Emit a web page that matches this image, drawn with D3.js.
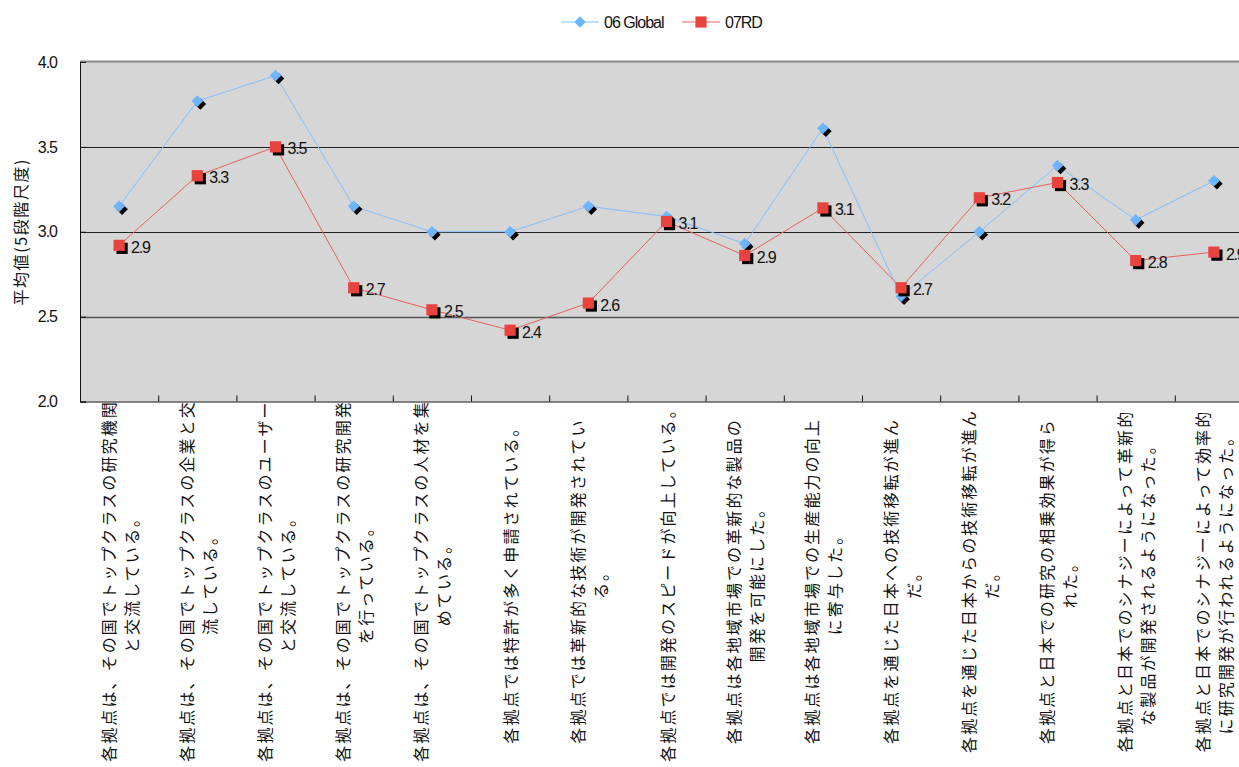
<!DOCTYPE html>
<html>
<head>
<meta charset="utf-8">
<script src="https://cdn.jsdelivr.net/npm/d3@7"></script>
<style>
  html, body { margin: 0; padding: 0; background: #fff; }
  svg { display: block; overflow: hidden; }
  text { font-family: "Liberation Sans", Arial, sans-serif; fill: #111; }
</style>
</head>
<body>
<svg id="chart" width="1239" height="767"></svg>
<script>
// Survey items (line breaks marked with \n)
const categories = [
  "各拠点は、その国でトップクラスの研究機関\nと交流している。",
  "各拠点は、その国でトップクラスの企業と交\n流している。",
  "各拠点は、その国でトップクラスのユーザー\nと交流している。",
  "各拠点は、その国でトップクラスの研究開発\nを行っている。",
  "各拠点は、その国でトップクラスの人材を集\nめている。",
  "各拠点では特許が多く申請されている。",
  "各拠点では革新的な技術が開発されてい\nる。",
  "各拠点では開発のスピードが向上している。",
  "各拠点は各地域市場での革新的な製品の\n開発を可能にした。",
  "各拠点は各地域市場での生産能力の向上\nに寄与した。",
  "各拠点を通じた日本への技術移転が進ん\nだ。",
  "各拠点を通じた日本からの技術移転が進ん\nだ。",
  "各拠点と日本での研究の相乗効果が得ら\nれた。",
  "各拠点と日本でのシナジーによって革新的\nな製品が開発されるようになった。",
  "各拠点と日本でのシナジーによって効率的\nに研究開発が行われるようになった。"
];

// Mean scores on a 5-point scale
const global06 = [3.15, 3.77, 3.92, 3.15, 3.00, 3.00, 3.15, 3.09, 2.93, 3.61, 2.62, 3.00, 3.39, 3.07, 3.30];
const rd07     = [2.92, 3.33, 3.50, 2.67, 2.54, 2.42, 2.58, 3.06, 2.86, 3.14, 2.67, 3.20, 3.29, 2.83, 2.88];

const seriesNames = ["06 Global", "07RD"];
const yTicks = [2.0, 2.5, 3.0, 3.5, 4.0];
const yTitle = "平均値(5段階尺度)";

const svg = d3.select("#chart");

const plotLeft = 80, plotTop = 62, plotBottom = 401.5, step = 78.2;
const plotRight = plotLeft + categories.length * step;

const x = d3.scaleBand().domain(d3.range(categories.length)).range([plotLeft, plotRight]);
const xEdge = d3.scaleLinear().domain([0, categories.length]).range([plotLeft, plotRight]);
const y = d3.scaleLinear().domain([2, 4]).range([plotBottom, plotTop]);
const cx = i => x(i) + x.bandwidth() / 2;

const numFont = "'Liberation Sans', Arial, sans-serif";
const jpFont = "'Noto Sans CJK JP', 'Noto Sans', sans-serif";

// plot background
svg.append("rect")
  .attr("x", plotLeft).attr("y", plotTop)
  .attr("width", plotRight - plotLeft).attr("height", plotBottom - plotTop)
  .attr("fill", "#d6d6d6");

// top border
svg.append("line")
  .attr("x1", plotLeft).attr("x2", plotRight)
  .attr("y1", plotTop - 0.5).attr("y2", plotTop - 0.5)
  .attr("stroke", "#858585").attr("stroke-width", 2);

// horizontal gridlines
svg.append("g").selectAll("line")
  .data(yTicks.filter(v => v > 2 && v < 4))
  .join("line")
  .attr("x1", plotLeft).attr("x2", plotRight)
  .attr("y1", d => Math.round(y(d)) + 0.5).attr("y2", d => Math.round(y(d)) + 0.5)
  .attr("stroke", d => d === 2.5 ? "#555" : "#222")
  .attr("stroke-width", d => d === 2.5 ? 1.6 : 1);

// y axis
const yAxis = svg.append("g")
  .attr("transform", `translate(${plotLeft},0)`)
  .call(d3.axisLeft(y).tickValues(yTicks).tickFormat(d3.format(".1f")).tickSize(-6).tickPadding(23));
yAxis.select(".domain").attr("stroke", "#111");
yAxis.selectAll(".tick line").attr("stroke", "#111");
yAxis.selectAll("text").attr("font-size", 16).attr("fill", "#111")
  .attr("font-family", numFont).attr("letter-spacing", "-1px");

// x axis with ticks between categories
const xAxis = svg.append("g")
  .attr("transform", `translate(0,${plotBottom})`)
  .call(d3.axisBottom(xEdge).tickValues(d3.range(1, categories.length)).tickFormat("").tickSize(-6).tickSizeOuter(0));
xAxis.select(".domain").attr("stroke", "#111");
xAxis.selectAll(".tick line").attr("stroke", "#111");

// category labels, rotated to read bottom-to-top
const labelMid = 581, lineGap = 23;
const catG = svg.append("g");
categories.forEach((c, i) => {
  const lines = c.split("\n");
  const t = catG.append("text")
    .attr("transform", `translate(${cx(i)},${labelMid}) rotate(-90)`)
    .attr("text-anchor", "middle")
    .attr("font-size", 16)
    .attr("letter-spacing", "2.1px")
    .style("font-family", jpFont);
  lines.forEach((ln, k) => {
    t.append("tspan")
      .attr("x", 0)
      .attr("y", (k - (lines.length - 1) / 2) * lineGap)
      .attr("dominant-baseline", "central")
      .text(ln);
  });
});

// y axis title
svg.append("text")
  .attr("transform", `translate(20,${(plotTop + plotBottom) / 2}) rotate(-90)`)
  .attr("text-anchor", "middle")
  .attr("dominant-baseline", "central")
  .attr("font-size", 16)
  .attr("letter-spacing", "1.6px")
  .style("font-family", jpFont)
  .text(yTitle);

// series
const blue = "#6cb6ff", blueLine = "#80c0ff";
const red = "#e8433e", redLine = "#e8605a";
const diamond = d3.symbol().type(d3.symbolDiamond2).size(85);
const square = d3.symbol().type(d3.symbolSquare2).size(160);
const line = d3.line().x((d, i) => cx(i)).y(d => y(d));

function drawSeries(values, lineColor, markColor, shape) {
  const g = svg.append("g");
  g.append("path").datum(values)
    .attr("class", "series-line")
    .attr("d", line).attr("fill", "none")
    .attr("stroke", lineColor).attr("stroke-width", 1);
  g.selectAll("path.shadow").data(values).join("path")
    .attr("class", "shadow")
    .attr("d", shape)
    .attr("transform", (d, i) => `translate(${cx(i) + 3},${y(d) + 3})`)
    .attr("fill", "#000");
  g.selectAll("path.mark").data(values).join("path")
    .attr("class", "mark")
    .attr("d", shape)
    .attr("transform", (d, i) => `translate(${cx(i)},${y(d)})`)
    .attr("fill", markColor);
  return g;
}

drawSeries(global06, blueLine, blue, diamond);
const rdG = drawSeries(rd07, redLine, red, square);

// value labels for 07RD
rdG.selectAll("text.val").data(rd07).join("text")
  .attr("class", "val")
  .attr("x", (d, i) => cx(i) + 12)
  .attr("y", d => y(d) + 2)
  .attr("dominant-baseline", "central")
  .attr("font-size", 16)
  .attr("font-family", numFont)
  .attr("letter-spacing", "-1.2px")
  .text(d => d3.format(".1f")(d));

// legend
const legend = svg.append("g").attr("transform", "translate(0,22)");
const legendItems = [
  { name: seriesNames[0], x0: 561, lineColor: blueLine, color: blue, shape: diamond },
  { name: seriesNames[1], x0: 682, lineColor: redLine, color: red, shape: square }
];
legendItems.forEach(it => {
  legend.append("line")
    .attr("x1", it.x0).attr("x2", it.x0 + 38)
    .attr("y1", 0).attr("y2", 0)
    .attr("stroke", it.lineColor).attr("stroke-width", 1);
  legend.append("path")
    .attr("d", it.shape)
    .attr("transform", `translate(${it.x0 + 19},0)`)
    .attr("fill", it.color);
  legend.append("text")
    .attr("x", it.x0 + 43).attr("y", 0)
    .attr("dominant-baseline", "central")
    .attr("font-size", 16)
    .attr("font-family", numFont)
    .attr("letter-spacing", "-1px")
    .text(it.name);
});
</script>
</body>
</html>
